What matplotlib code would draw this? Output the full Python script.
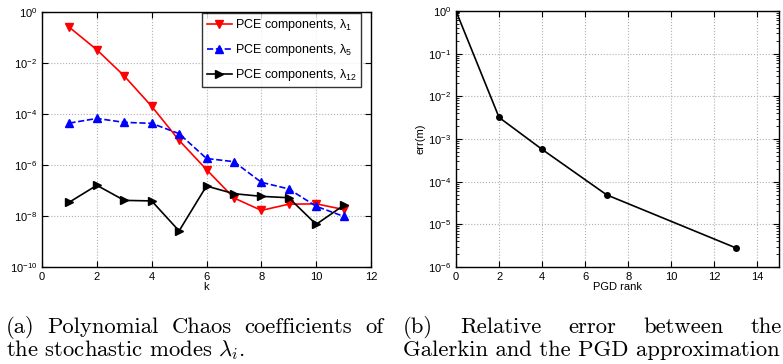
import numpy as np
import matplotlib
matplotlib.use('Agg')
import matplotlib.pyplot as plt
import matplotlib.ticker as ticker

plt.rcParams['font.family'] = ['Liberation Sans', 'DejaVu Sans']
plt.rcParams['mathtext.fontset'] = 'cm'

# ---------------- data ----------------
k = [1, 2, 3, 4, 5, 6, 7, 8, 9, 10, 11]
lam1 = [0.25, 3.3e-2, 3.1e-3, 2.0e-4, 9.3e-6, 6.6e-7, 5.1e-8, 1.66e-8, 2.9e-8, 3.0e-8, 1.8e-8]
lam5 = [4.4e-5, 6.7e-5, 4.7e-5, 4.3e-5, 1.7e-5, 1.8e-6, 1.35e-6, 2.1e-7, 1.15e-7, 2.4e-8, 9.7e-9]
lam12 = [3.5e-8, 1.6e-7, 4.1e-8, 3.9e-8, 2.6e-9, 1.5e-7, 7.5e-8, 5.9e-8, 5.2e-8, 4.7e-9, 2.6e-8]

rank = [0, 2, 4, 7, 13]
err = [1.0, 3.2e-3, 5.7e-4, 4.9e-5, 2.8e-6]

labels = [r'PCE components, $\mathregular{\lambda_{1}}$',
          r'PCE components, $\mathregular{\lambda_{5}}$',
          r'PCE components, $\mathregular{\lambda_{12}}$']

fig = plt.figure(figsize=(7.83, 3.64), dpi=100)
ax1 = fig.add_axes([42/783, 1-267/364, 329/783, 255/364])
ax2 = fig.add_axes([456/783, 1-267/364, 323/783, 256/364])


def style_axes(ax):
    ax.set_yscale('log')
    ax.grid(which='major', color='#b0b0b0', linestyle=':', linewidth=0.8)
    ax.tick_params(which='both', direction='in', top=True, right=True, labelsize=8, colors='black')
    ax.tick_params(which='major', length=4, width=0.8)
    ax.tick_params(which='minor', length=2, width=0.6)
    for s in ax.spines.values():
        s.set_linewidth(1.0)


# (a) PCE coefficients
ax1.plot(k, lam1, '-v', color='red', lw=1.2, ms=5.5, label=labels[0])
ax1.plot(k, lam5, '--^', color='blue', lw=1.2, ms=5.5, label=labels[1])
ax1.plot(k, lam12, '->', color='black', lw=1.2, ms=5.5, label=labels[2])
style_axes(ax1)
ax1.set_xlim(0, 12)
ax1.set_ylim(1e-10, 1)
ax1.set_xticks(np.arange(0, 13, 2))
ax1.yaxis.set_major_locator(ticker.LogLocator(base=100.0, numticks=10))
ax1.yaxis.set_minor_locator(ticker.NullLocator())
ax1.set_xlabel('k', fontsize=8, labelpad=0)
leg = ax1.legend(loc='upper right', bbox_to_anchor=(361/783, 1-13/364),
                 bbox_transform=fig.transFigure, borderaxespad=0,
                 fancybox=False, edgecolor='black', fontsize=9,
                 handlelength=2.0, handletextpad=0.25, labelspacing=0.7,
                 borderpad=0.35)
leg.get_frame().set_linewidth(1.0)

# (b) relative error
ax2.plot(rank, err, '-o', color='black', lw=1.2, ms=4)
style_axes(ax2)
ax2.set_xlim(0, 15)
ax2.set_ylim(1e-6, 1)
ax2.set_xticks(np.arange(0, 15, 2))
ax2.yaxis.set_major_locator(ticker.LogLocator(base=10.0, numticks=10))
ax2.yaxis.set_minor_locator(ticker.LogLocator(base=10.0, subs=np.arange(2, 10), numticks=10))
ax2.yaxis.set_minor_formatter(ticker.NullFormatter())
ax2.set_xlabel('PGD rank', fontsize=8, labelpad=0)
ax2.set_ylabel('err(m)', fontsize=8, labelpad=2)

# captions
cap = dict(fontsize=16.3, family='cmr10', va='baseline')
y1 = 1 - 333/364
y2 = 1 - 356/364
W = 783.0


def justified(words, x0, x1, y):
    # spread words evenly between x0 and x1 (pixels), like LaTeX does
    renderer = fig.canvas.get_renderer()
    texts = [fig.text(0, y, w, ha='left', **cap) for w in words]
    widths = [t.get_window_extent(renderer).width for t in texts]
    gap = (x1 - x0 - sum(widths)) / (len(words) - 1)
    x = x0
    for t, w in zip(texts, widths):
        t.set_x(x / W)
        x += w + gap


justified(['(a)', 'Polynomial', 'Chaos', 'coefficients', 'of'], 6, 383, y1)
justified(['(b)', 'Relative', 'error', 'between', 'the'], 403, 782, y1)
fig.text(6/W, y2, r'the stochastic modes $\lambda_i$.', ha='left', **cap)
fig.text(403/W, y2, 'Galerkin and the PGD approximation', ha='left', **cap)

fig.savefig('out.png', dpi=100)
